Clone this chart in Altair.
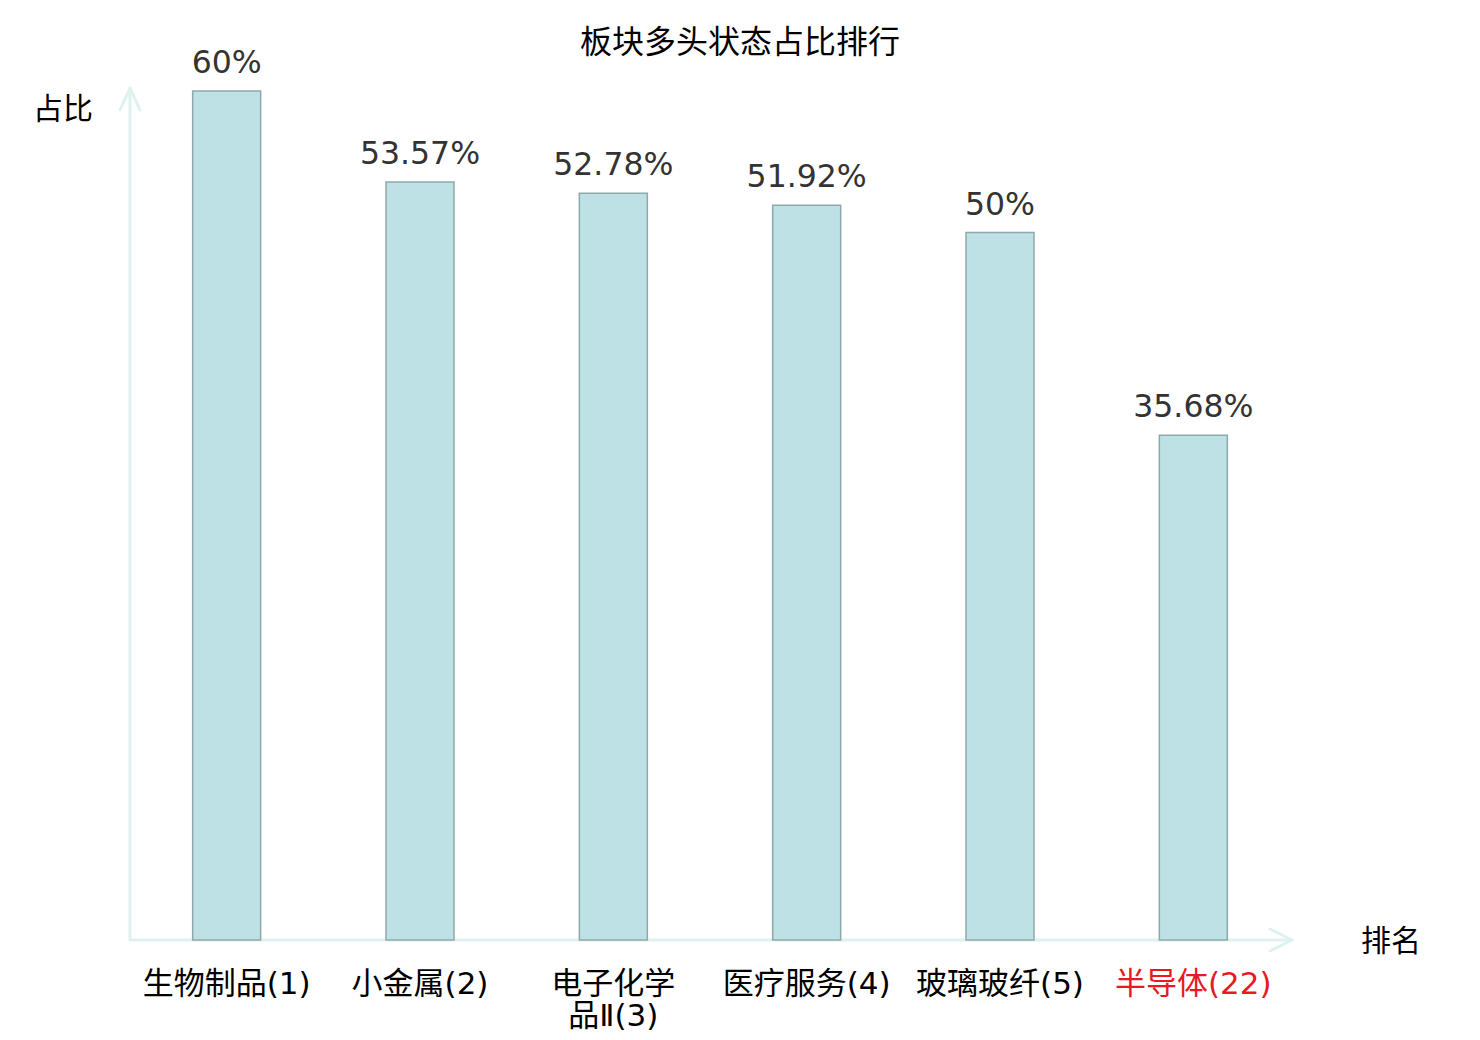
import altair as alt
import pandas as pd

# ---- data ----
categories = ["生物制品(1)", "小金属(2)", "电子化学品Ⅱ(3)", "医疗服务(4)", "玻璃玻纤(5)", "半导体(22)"]
display_labels = ["生物制品(1)", "小金属(2)", "电子化学\n品Ⅱ(3)", "医疗服务(4)", "玻璃玻纤(5)", "半导体(22)"]
shares = [60, 53.57, 52.78, 51.92, 50, 35.68]
share_labels = ["60%", "53.57%", "52.78%", "51.92%", "50%", "35.68%"]
highlight = "半导体(22)"
title_text = "板块多头状态占比排行"
y_title = "占比"
x_title = "排名"

df = pd.DataFrame({
    "category": categories,
    "label": display_labels,
    "share": shares,
    "share_label": share_labels,
})
one = pd.DataFrame({"k": [0]})

W, H = 1160, 849
AXIS = "#dff2ef"
CJK = "Noto Sans CJK SC"
MIXED = "DejaVu Sans, Noto Sans CJK SC"

x = alt.X("category:N", sort=categories, axis=None,
          scale=alt.Scale(paddingInner=0, paddingOuter=0))
y = alt.Y("share:Q", axis=None, scale=alt.Scale(domain=[0, 60], nice=False, zero=True))

base = alt.Chart(df)


def seg(x1, y1, x2, y2):
    return alt.Chart(one).mark_rule(color=AXIS, strokeWidth=3, strokeCap="round").encode(
        x=alt.value(x1), y=alt.value(y1), x2=alt.value(x2), y2=alt.value(y2))


axes = [
    seg(0, H, W + 2, H),
    seg(W - 20, H - 11, W + 2, H),
    seg(W - 20, H + 11, W + 2, H),
    seg(0, H, 0, -3),
    seg(-10, 19, 0, -3),
    seg(10, 19, 0, -3),
]

bars = base.mark_bar(size=68, fill="#bde1e4", stroke="#8ea9ab", strokeWidth=1.5).encode(x=x, y=y)

values = base.mark_text(baseline="alphabetic", dy=-18, font="DejaVu Sans", fontSize=31.5,
                        color="#333333").encode(x=x, y=y, text="share_label:N")

cat_labels = base.mark_text(baseline="middle", fontSize=31, font=MIXED,
                            lineBreak="\n", lineHeight=32).encode(
    x=x, y=alt.value(894), text="label:N",
    color=alt.condition(alt.datum.category == highlight, alt.value("#e8191f"), alt.value("#000000")))

title = alt.Chart(one).mark_text(fontSize=32, font=CJK, baseline="middle",
                                 color="#000000").encode(
    x=alt.value(610), y=alt.value(-48), text=alt.value(title_text))
ytitle = alt.Chart(one).mark_text(fontSize=30, font=CJK, baseline="middle", color="#000000").encode(
    x=alt.value(-67), y=alt.value(19), text=alt.value(y_title))
xtitle = alt.Chart(one).mark_text(fontSize=30, font=CJK, baseline="middle", color="#000000").encode(
    x=alt.value(1261), y=alt.value(851), text=alt.value(x_title))

chart = alt.layer(*axes, bars, values, cat_labels, title, ytitle, xtitle).properties(
    width=W, height=H,
    padding={"left": 122, "top": 83, "right": 182, "bottom": 92},
    autosize=alt.AutoSizeParams(type="none"),
).configure_view(stroke=None)

chart.save("out.html", embed_options={"renderer": "svg", "actions": False})
